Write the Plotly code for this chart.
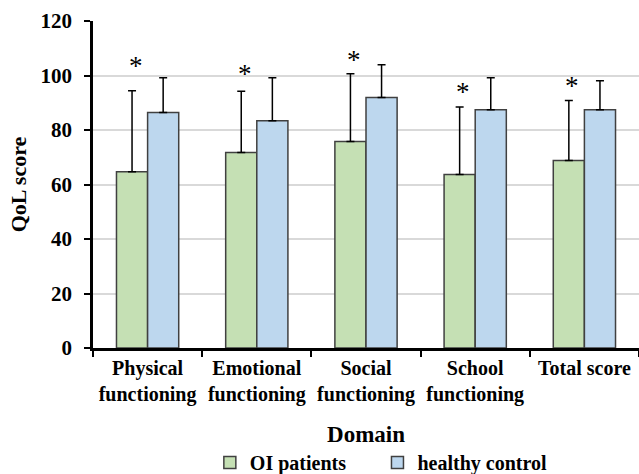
import plotly.graph_objects as go

categories = ["Physical<br>functioning", "Emotional<br>functioning", "Social<br>functioning",
              "School<br>functioning", "Total score"]
oi_mean = [64.7, 71.7, 75.8, 63.7, 68.8]
oi_sd = [29.7, 22.5, 24.8, 24.7, 22.0]
hc_mean = [86.4, 83.4, 91.9, 87.4, 87.4]
hc_sd = [12.8, 15.8, 12.0, 11.8, 10.7]
star_y = [104.6, 101.7, 107.0, 95.4, 97.3]
y_ticks = [0, 20, 40, 60, 80, 100, 120]

FONT = "Liberation Serif"

fig = go.Figure()
fig.add_trace(go.Bar(
    name="OI patients", x=categories, y=oi_mean, legend="legend",
    marker=dict(color="#c5e0b4", line=dict(color="#404040", width=1.5)),
    error_y=dict(type="data", array=oi_sd, arrayminus=[0] * len(oi_sd), symmetric=False,
                 color="black", thickness=1.5, width=4),
))
fig.add_trace(go.Bar(
    name="healthy control", x=categories, y=hc_mean, legend="legend2",
    marker=dict(color="#bdd7ee", line=dict(color="#404040", width=1.5)),
    error_y=dict(type="data", array=hc_sd, arrayminus=[0] * len(hc_sd), symmetric=False,
                 color="black", thickness=1.5, width=4),
))

for c, sy in zip(categories, star_y):
    fig.add_annotation(x=c, y=sy, text="*", showarrow=False, xref="x", yref="y",
                       xshift=-12, yshift=-3.5, yanchor="middle",
                       font=dict(family=FONT, size=27, color="black", weight="normal"))

legend_font = dict(family=FONT, size=20, color="black", weight="bold")
fig.update_layout(
    width=639, height=474,
    margin=dict(l=93, r=0, t=21, b=125.5, autoexpand=False),
    paper_bgcolor="white", plot_bgcolor="white",
    font=dict(family=FONT, size=20, color="black", weight="bold"),
    barmode="group", bargap=0.43, bargroupgap=0,
    showlegend=True,
    legend=dict(orientation="h", x=0.214, xanchor="left", y=-0.35, yanchor="middle",
                font=legend_font, bgcolor="rgba(0,0,0,0)"),
    legend2=dict(orientation="h", x=0.521, xanchor="left", y=-0.35, yanchor="middle",
                 font=legend_font, bgcolor="rgba(0,0,0,0)"),
)
fig.update_yaxes(
    range=[0, 120], tickvals=y_ticks, ticks="outside", ticklen=6, tickwidth=2,
    tickcolor="black", showline=True, linecolor="black", linewidth=2.5,
    showgrid=True, gridcolor="#d9d9d9", gridwidth=1.5, zeroline=False,
    tickfont=dict(family=FONT, size=21, weight="bold"), ticklabelstandoff=8,
    title=dict(text="QoL score", font=dict(family=FONT, size=22, weight="bold"), standoff=8),
)
fig.update_xaxes(
    type="category", ticks="outside", tickson="boundaries", ticklen=6, tickwidth=2,
    tickcolor="black", showline=True, linecolor="black", linewidth=2.5,
    tickfont=dict(family=FONT, size=20, weight="bold"), tickangle=0,
    title=dict(text="Domain", font=dict(family=FONT, size=23, weight="bold"), standoff=22),
)

fig.write_html("out.html", config={"displayModeBar": False},
               post_script="document.body.style.margin='0';")
